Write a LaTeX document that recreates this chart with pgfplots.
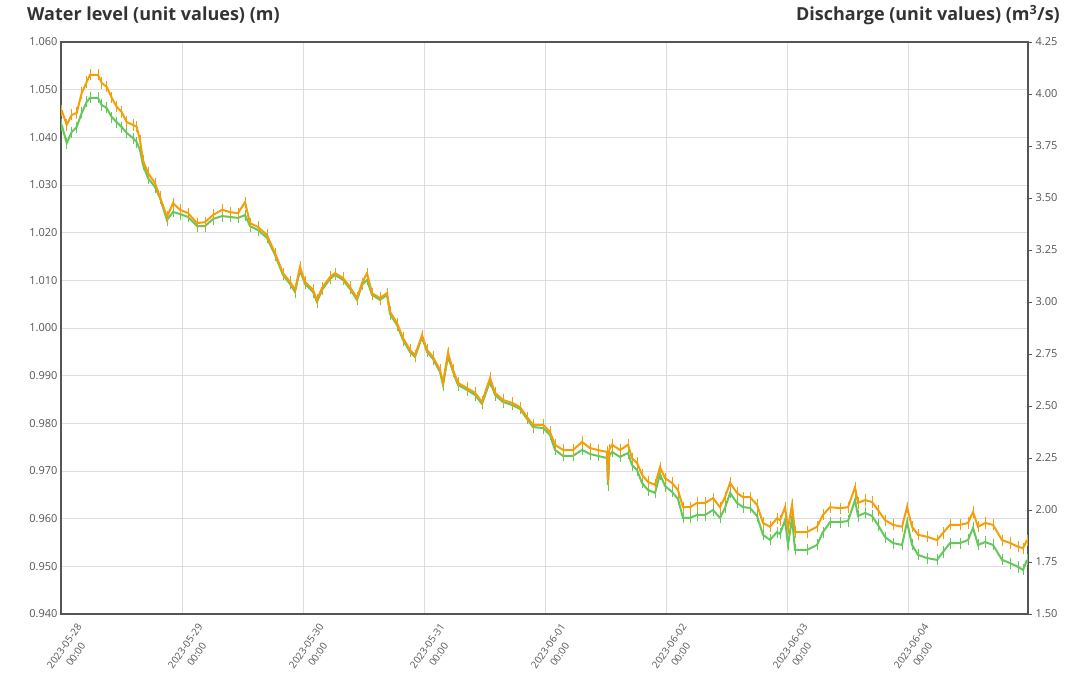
\documentclass[border=0pt]{standalone}
\usepackage{fontspec}
\setmainfont{Open Sans}
\usepackage{pgfplots}
\usepackage{pgfplotstable}
\pgfplotsset{compat=1.18}

\definecolor{wlorange}{RGB}{245,158,12}
\definecolor{qgreen}{RGB}{100,200,92}
\definecolor{gridgray}{RGB}{222,222,222}
\definecolor{boxgray}{RGB}{85,85,85}
\definecolor{ticktext}{RGB}{85,85,85}
\definecolor{titletext}{RGB}{51,51,51}

% hours since 2023-05-28 00:00, water level (m), discharge (m3/s)
\pgfplotstableread{
h lvl q
0.14 1.0457 3.851
1.13 1.0426 3.764
2.12 1.0447 3.817
3.11 1.0451 3.841
4.11 1.0493 3.909
5.10 1.0516 3.962
5.75 1.0531 3.981
7.34 1.0531 3.981
8.07 1.0514 3.947
9.06 1.0506 3.933
10.06 1.0483 3.889
11.05 1.0464 3.865
12.04 1.0453 3.841
13.03 1.0432 3.813
14.28 1.0426 3.788
15.02 1.0422 3.769
15.67 1.0394 3.731
16.26 1.0352 3.659
17.26 1.0325 3.596
18.64 1.0304 3.553
19.63 1.0275 3.500
21.02 1.0233 3.394
22.22 1.0262 3.433
23.60 1.0248 3.423
25.19 1.0241 3.409
26.98 1.0220 3.365
28.56 1.0222 3.365
30.15 1.0237 3.399
31.93 1.0248 3.413
33.52 1.0243 3.409
35.11 1.0241 3.404
36.50 1.0264 3.418
37.49 1.0220 3.365
39.07 1.0212 3.346
40.86 1.0195 3.308
42.45 1.0157 3.226
44.03 1.0115 3.130
45.42 1.0097 3.087
46.41 1.0080 3.048
47.41 1.0128 3.154
48.40 1.0097 3.087
49.98 1.0080 3.048
50.78 1.0059 3.000
51.77 1.0084 3.058
53.36 1.0107 3.111
54.35 1.0115 3.130
55.93 1.0105 3.106
57.32 1.0086 3.063
58.71 1.0063 3.010
59.70 1.0094 3.082
60.70 1.0115 3.106
61.69 1.0073 3.034
63.27 1.0063 3.010
64.66 1.0073 3.034
65.26 1.0034 2.942
66.65 1.0010 2.889
67.84 0.9979 2.817
69.22 0.9954 2.760
70.22 0.9943 2.736
71.60 0.9985 2.832
72.60 0.9954 2.760
73.79 0.9939 2.726
75.17 0.9912 2.664
75.77 0.9885 2.601
76.76 0.9948 2.740
77.75 0.9912 2.664
78.74 0.9885 2.601
80.53 0.9874 2.577
82.12 0.9864 2.553
83.51 0.9845 2.510
85.10 0.9895 2.620
86.08 0.9864 2.553
87.67 0.9849 2.519
89.46 0.9843 2.505
91.04 0.9834 2.486
92.43 0.9813 2.438
93.62 0.9797 2.399
95.60 0.9797 2.394
96.99 0.9782 2.361
97.98 0.9755 2.289
99.57 0.9744 2.260
101.56 0.9744 2.260
103.34 0.9761 2.289
104.93 0.9748 2.269
106.51 0.9744 2.260
108.30 0.9740 2.250
108.50 0.9681 2.120
108.75 0.9745 2.262
109.29 0.9755 2.279
110.88 0.9744 2.255
112.46 0.9755 2.274
113.26 0.9727 2.216
114.25 0.9717 2.192
115.24 0.9692 2.130
116.43 0.9677 2.096
117.82 0.9671 2.082
118.81 0.9708 2.173
119.80 0.9685 2.115
121.19 0.9675 2.087
122.38 0.9660 2.053
123.37 0.9624 1.962
124.76 0.9624 1.962
126.15 0.9633 1.976
127.74 0.9633 1.976
129.32 0.9643 2.000
130.71 0.9624 1.962
131.70 0.9645 2.010
132.70 0.9675 2.082
134.08 0.9654 2.034
135.27 0.9645 2.014
136.66 0.9645 2.010
138.05 0.9629 1.971
139.24 0.9591 1.880
140.63 0.9583 1.856
142.02 0.9601 1.894
142.61 0.9597 1.885
143.61 0.9624 1.952
144.20 0.9580 1.832
144.99 0.9629 1.962
145.59 0.9572 1.808
147.97 0.9572 1.808
149.95 0.9583 1.832
151.14 0.9608 1.894
152.53 0.9624 1.942
154.52 0.9622 1.942
156.10 0.9624 1.947
157.49 0.9666 2.048
158.08 0.9633 1.971
159.47 0.9639 1.986
160.86 0.9635 1.971
162.05 0.9618 1.928
163.44 0.9597 1.870
165.03 0.9587 1.841
166.81 0.9583 1.832
167.80 0.9624 1.942
168.80 0.9583 1.832
169.99 0.9566 1.784
171.77 0.9562 1.769
173.75 0.9555 1.760
174.94 0.9570 1.798
176.33 0.9587 1.841
178.32 0.9587 1.841
179.90 0.9591 1.856
180.90 0.9614 1.914
181.89 0.9583 1.832
183.28 0.9591 1.846
184.86 0.9587 1.832
186.65 0.9555 1.760
188.24 0.9549 1.745
189.82 0.9541 1.726
190.81 0.9538 1.712
191.61 0.9555 1.760
}\gauge

\begin{document}
\begin{tikzpicture}
\pgfplotsset{
  set layers,
  common/.style={
    scale only axis, width=967pt, height=572pt,
    at={(0,0)}, anchor=south west,
    xmin=0, xmax=191.8,
    /pgf/number format/assume math mode=true,
    tick label style={font=\fontsize{11}{13}\selectfont, text=ticktext},
  },
}
% discharge on the right axis
\begin{axis}[common,
  hide x axis, axis y line*=right,
  ymin=1.5, ymax=4.25,
  ytick={1.5,1.75,2,2.25,2.5,2.75,3,3.25,3.5,3.75,4,4.25},
  yticklabel style={/pgf/number format/.cd, fixed, fixed zerofill, precision=2},
  tick align=outside, major tick length=4pt,
  ytick style={draw=boxgray, line width=0.8pt},
  axis line style={draw=boxgray, line width=1.5pt},
]
\addplot[qgreen, line width=2pt,
  error bars/.cd, y dir=both, y fixed=0.017,
  error bar style={line width=0.8pt},
  error mark options={mark size=2pt, line width=0.8pt}]
  table[x=h, y=q] {\gauge};
\end{axis}
% water level on the left axis
\begin{axis}[common,
  ymin=0.94, ymax=1.06,
  ytick={0.94,0.95,0.96,0.97,0.98,0.99,1,1.01,1.02,1.03,1.04,1.05,1.06},
  yticklabel style={/pgf/number format/.cd, fixed, fixed zerofill, precision=3},
  xtick={0,24,48,72,96,120,144,168},
  xticklabels={{2023-05-28\\00:00},{2023-05-29\\00:00},{2023-05-30\\00:00},{2023-05-31\\00:00},
    {2023-06-01\\00:00},{2023-06-02\\00:00},{2023-06-03\\00:00},{2023-06-04\\00:00}},
  xticklabel style={font=\fontsize{10}{14}\selectfont, align=center,
    xshift=26pt, yshift=-12pt, rotate=55, anchor=east},
  major tick length=0pt,
  grid=major, grid style={draw=gridgray, line width=0.8pt},
  axis line style={draw=boxgray, line width=1.5pt},
]
\addplot[wlorange, line width=2pt,
  error bars/.cd, y dir=both, y fixed=0.00075,
  error bar style={line width=0.8pt},
  error mark options={mark size=2pt, line width=0.8pt}]
  table[x=h, y=lvl] {\gauge};
\end{axis}
\node[anchor=west, inner sep=0pt, font=\fontsize{18}{21}\selectfont\bfseries, text=titletext]
  at (-34pt,599pt) {Water level (unit values) (m)};
\node[anchor=east, inner sep=0pt, font=\fontsize{18}{21}\selectfont\bfseries, text=titletext]
  at (999pt,599pt) {Discharge (unit values) (m\textsuperscript{3}/s)};
\path (-61pt,-56pt) rectangle (1017pt,614pt);
\end{tikzpicture}
\end{document}
